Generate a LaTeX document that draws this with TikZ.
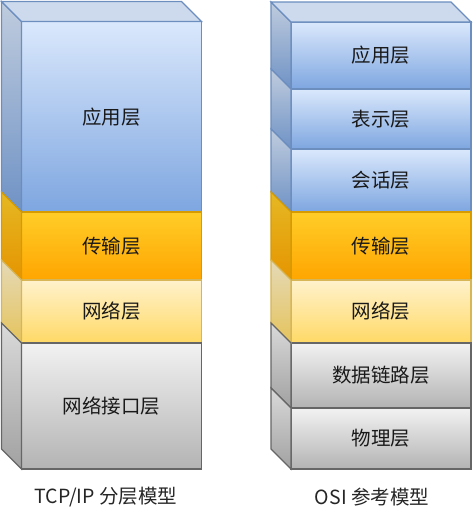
\documentclass[tikz,border=0pt]{standalone}
\usepackage{fontspec}
\setmainfont{Noto Sans CJK SC}
\usepackage{tikz}
\usetikzlibrary{positioning}
\definecolor{appTop}{HTML}{DAE8FC}
\definecolor{appBot}{HTML}{7EA6E0}
\definecolor{appLine}{HTML}{6C8EBF}
\definecolor{transTop}{HTML}{FFCD28}
\definecolor{transBot}{HTML}{FFA500}
\definecolor{transLine}{HTML}{D79B00}
\definecolor{netTop}{HTML}{FFF2CC}
\definecolor{netBot}{HTML}{FFD966}
\definecolor{netLine}{HTML}{D6B656}
\definecolor{linkTop}{HTML}{F2F2F2}
\definecolor{linkBot}{HTML}{B3B3B3}
\definecolor{linkLine}{HTML}{666666}
\tikzstyle{face}=[draw,line width=1.2pt,outer sep=0pt,inner sep=0pt,minimum width=180pt,text=black!90,font=\fontsize{19.5pt}{23pt}\selectfont]
\tikzstyle{appface}=[face,draw=appLine,top color=appTop,bottom color=appBot]
\tikzstyle{transface}=[face,draw=transLine,top color=transTop,bottom color=transBot]
\tikzstyle{netface}=[face,draw=netLine,top color=netTop,bottom color=netBot]
\tikzstyle{linkface}=[face,draw=linkLine,top color=linkTop,bottom color=linkBot]
\tikzstyle{appside}=[line width=1.2pt,draw=appLine,top color=appTop!88!black,bottom color=appBot!88!black]
\tikzstyle{transside}=[line width=1.2pt,draw=transLine,top color=transTop!90!black,bottom color=transBot!90!black]
\tikzstyle{netside}=[line width=1.2pt,draw=netLine,top color=netTop!90!black,bottom color=netBot!90!black]
\tikzstyle{linkside}=[line width=1.2pt,draw=linkLine,top color=linkTop!90!black,bottom color=linkBot!90!black]
\tikzstyle{appcap}=[line width=1.2pt,draw=appLine,fill=appTop!94!black]
\tikzstyle{caption}=[text=black!85,font=\fontsize{19.5pt}{23pt}\selectfont]
% left face of a layer block, 20pt deep
\newcommand{\sideface}[2]{\draw[#2] ([shift={(-20pt,20pt)}]#1.north west) -- (#1.north west)
  -- (#1.south west) -- ([shift={(-20pt,20pt)}]#1.south west) -- cycle;}
% top face of the uppermost block
\newcommand{\topface}[2]{\draw[#2] ([shift={(-20pt,20pt)}]#1.north west) -- ([shift={(-20pt,20pt)}]#1.north east)
  -- (#1.north east) -- (#1.north west) -- cycle;}
\begin{document}
\begin{tikzpicture}[x=1pt,y=-1pt]
  \useasboundingbox (0,0) rectangle (472,512);
  % TCP/IP stack
  \node[appface,minimum height=190.5pt,anchor=north west] (tcpapp) at (21.5,21.5) {应用层};
  \node[transface,minimum height=68pt,below=0pt of tcpapp] (tcptrans) {传输层};
  \node[netface,minimum height=63pt,below=0pt of tcptrans] (tcpnet) {网络层};
  \node[linkface,minimum height=126pt,below=0pt of tcpnet] (tcpif) {网络接口层};
  \sideface{tcpapp}{appside}
  \sideface{tcptrans}{transside}
  \sideface{tcpnet}{netside}
  \sideface{tcpif}{linkside}
  \topface{tcpapp}{appcap}
  % OSI stack
  \node[appface,minimum height=67pt,anchor=north west] (osiapp) at (291,22) {应用层};
  \node[appface,minimum height=60pt,below=0pt of osiapp] (osipre) {表示层};
  \node[appface,minimum height=63pt,below=0pt of osipre] (osises) {会话层};
  \node[transface,minimum height=68pt,below=0pt of osises] (ositrans) {传输层};
  \node[netface,minimum height=63pt,below=0pt of ositrans] (osinet) {网络层};
  \node[linkface,minimum height=65pt,below=0pt of osinet] (osilink) {数据链路层};
  \node[linkface,minimum height=61pt,below=0pt of osilink] (osiphy) {物理层};
  \sideface{osiapp}{appside}
  \sideface{osipre}{appside}
  \sideface{osises}{appside}
  \sideface{ositrans}{transside}
  \sideface{osinet}{netside}
  \sideface{osilink}{linkside}
  \sideface{osiphy}{linkside}
  \topface{osiapp}{appcap}
  % captions
  \node[caption] (tcpname) at (106,497) {TCP/IP 分层模型};
  \node[caption] (osiname) at (372,497) {OSI 参考模型};
\end{tikzpicture}
\end{document}
